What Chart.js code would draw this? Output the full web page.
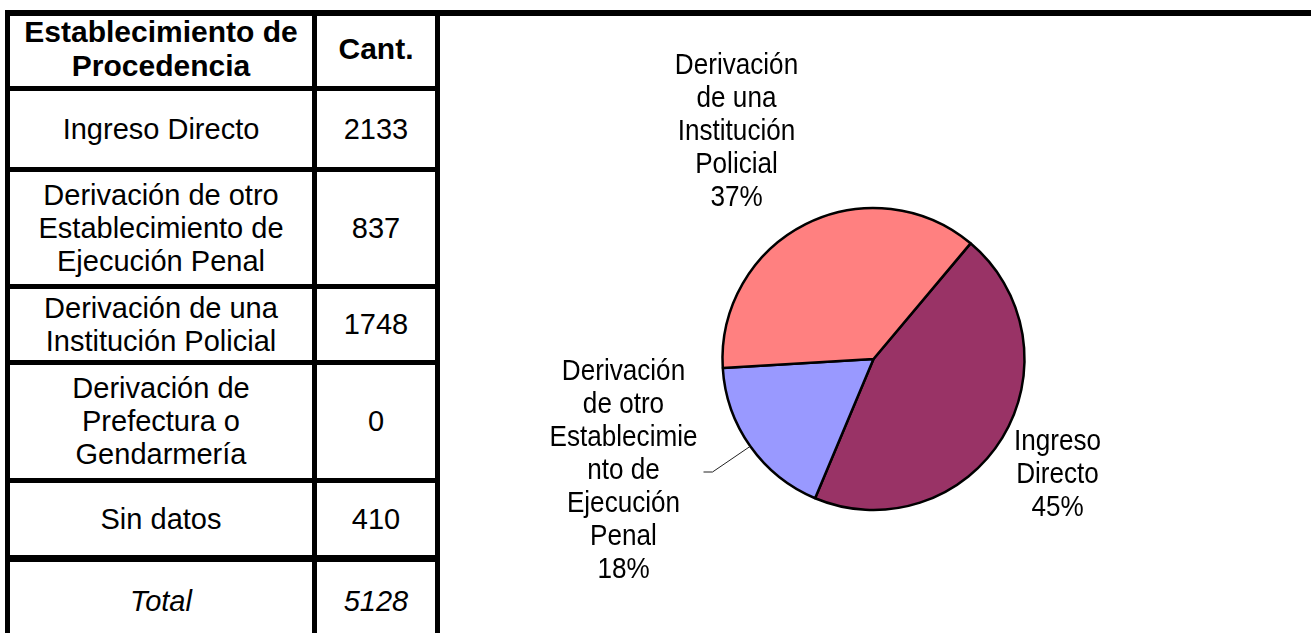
<!DOCTYPE html>
<html>
<head>
<meta charset="utf-8">
<script src="https://cdn.jsdelivr.net/npm/chart.js@4"></script>
<style>
  html, body { margin: 0; padding: 0; background: #fff; }
  body {
    width: 1311px; height: 633px; overflow: hidden; position: relative;
    font-family: "Liberation Sans", Arial, sans-serif; color: #000;
  }
  .ln { position: absolute; background: #000; }
  .cell {
    position: absolute; display: flex; align-items: center; justify-content: center;
    text-align: center; font-size: 29px; line-height: 33px; white-space: pre-line;
    box-sizing: border-box;
  }
  .head { font-weight: bold; font-size: 30px; line-height: 34px; padding-bottom: 5px; }
  .tot { font-style: italic; }
  #chartBox { position: absolute; left: 440px; top: 16px; width: 871px; height: 617px; }
</style>
</head>
<body>
<div id="tabla"></div>
<div id="chartBox"><canvas id="pie"></canvas></div>
<script>
// datos
const tableHeader = ["Establecimiento de\nProcedencia", "Cant."];
const tableCategories = [
  "Ingreso Directo",
  "Derivación de otro\nEstablecimiento de\nEjecución Penal",
  "Derivación de una\nInstitución Policial",
  "Derivación de\nPrefectura o\nGendarmería",
  "Sin datos",
];
const tableCounts = [2133, 837, 1748, 0, 410];
const totalLabel = "Total";

const pieCategories = [
  "Ingreso Directo",
  "Derivación de otro Establecimiento de Ejecución Penal",
  "Derivación de una Institución Policial",
];
const pieValues = [2133, 837, 1748];
const pieLabelLines = [
  ["Ingreso", "Directo"],
  ["Derivación", "de otro", "Establecimie", "nto de", "Ejecución", "Penal"],
  ["Derivación", "de una", "Institución", "Policial"],
];
const pieColors = ["#993366", "#9999FF", "#FF8080"];

// layout de la tabla (px)
const colX = [[10, 312], [317, 435]];
const rowY = [[16, 86], [91, 167], [172, 284], [289, 360], [365, 478], [483, 555], [562, 640]];
const hLines = [[10, 16], [86, 91], [167, 172], [284, 289], [360, 365], [478, 483], [555, 562]];
const vLines = [[5, 10], [312, 317], [435, 440]];

// posicion de etiquetas respecto al centro de la torta
const labelOffsets = [[184, 116], [-250, 112], [-137, -227.5]];

function buildTable() {
  const wrap = document.getElementById("tabla");
  const total = tableCounts.reduce((s, v) => s + v, 0);
  const rows = [[tableHeader[0], tableHeader[1], "head"]];
  tableCategories.forEach((c, i) => rows.push([c, String(tableCounts[i]), ""]));
  rows.push([totalLabel, String(total), "tot"]);

  rows.forEach((r, i) => {
    [0, 1].forEach((k) => {
      const d = document.createElement("div");
      d.className = "cell " + r[2];
      d.style.left = colX[k][0] + "px";
      d.style.width = colX[k][1] - colX[k][0] + "px";
      d.style.top = rowY[i][0] + "px";
      d.style.height = rowY[i][1] - rowY[i][0] + "px";
      d.textContent = r[k];
      wrap.appendChild(d);
    });
  });

  hLines.forEach((h, i) => {
    const d = document.createElement("div");
    d.className = "ln";
    d.style.left = "5px";
    d.style.width = (i === 0 ? 1311 - 5 : 435) + "px";
    d.style.top = h[0] + "px";
    d.style.height = h[1] - h[0] + "px";
    wrap.appendChild(d);
  });
  vLines.forEach((v) => {
    const d = document.createElement("div");
    d.className = "ln";
    d.style.left = v[0] + "px";
    d.style.width = v[1] - v[0] + "px";
    d.style.top = "10px";
    d.style.height = "630px";
    wrap.appendChild(d);
  });
}

const pieLabelsPlugin = {
  id: "pieLabels",
  afterDatasetsDraw(chart) {
    const ctx = chart.ctx;
    const meta = chart.getDatasetMeta(0);
    const total = pieValues.reduce((s, v) => s + v, 0);
    const lh = 33;
    ctx.save();
    ctx.font = '29px "Liberation Sans", Arial, sans-serif';
    ctx.fillStyle = "#000";
    ctx.textAlign = "center";
    ctx.textBaseline = "middle";
    meta.data.forEach((arc, i) => {
      const p = arc.getProps(["x", "y", "outerRadius", "startAngle", "endAngle"], true);
      const lines = pieLabelLines[i].concat([Math.round((pieValues[i] / total) * 100) + "%"]);
      const cx = p.x + labelOffsets[i][0];
      const cy = p.y + labelOffsets[i][1];
      lines.forEach((t, j) => {
        const ly = cy + (j - (lines.length - 1) / 2) * lh;
        ctx.save();
        ctx.translate(cx, ly);
        ctx.scale(0.9, 1);
        ctx.fillText(t, 0, 0);
        ctx.restore();
      });
      // linea guia para la etiqueta pequeña
      if (i === 1) {
        const mid = (p.startAngle + p.endAngle) / 2;
        const ax = p.x + Math.cos(mid) * p.outerRadius;
        const ay = p.y + Math.sin(mid) * p.outerRadius;
        ctx.beginPath();
        ctx.strokeStyle = "#222";
        ctx.lineWidth = 1;
        ctx.moveTo(cx + 80, cy + 1);
        ctx.lineTo(cx + 89, cy + 1);
        ctx.lineTo(ax, ay);
        ctx.stroke();
      }
    });
    ctx.restore();
  },
};

buildTable();

new Chart(document.getElementById("pie"), {
  type: "pie",
  data: {
    labels: pieCategories,
    datasets: [
      {
        data: pieValues,
        backgroundColor: pieColors,
        borderColor: "#000",
        borderWidth: 2.5,
      },
    ],
  },
  options: {
    responsive: true,
    maintainAspectRatio: false,
    animation: false,
    events: [],
    rotation: 40,
    radius: 151,
    layout: { padding: { left: 0, right: 4, top: 69, bottom: 0 } },
    plugins: { legend: { display: false }, tooltip: { enabled: false } },
  },
  plugins: [pieLabelsPlugin],
});
</script>
</body>
</html>
